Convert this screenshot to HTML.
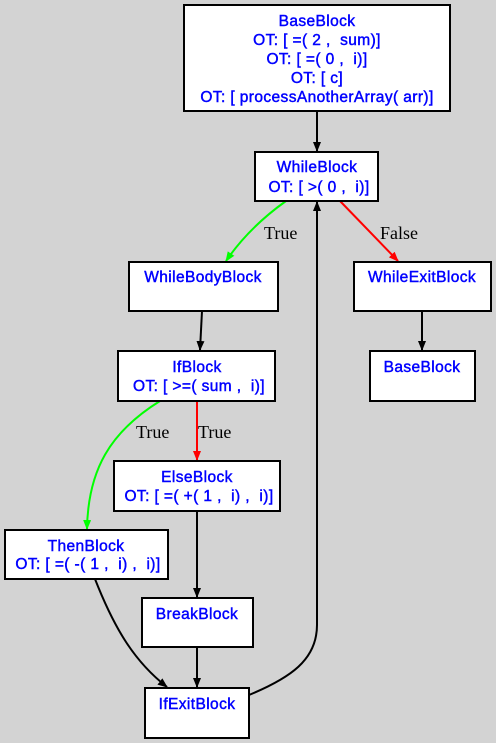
<!DOCTYPE html>
<html><head><style>
html,body{margin:0;padding:0;background:#d3d3d3;}
svg{display:block}
.n{fill:#fff;stroke:#000;stroke-width:2}
.t{font-family:"Liberation Sans",Arial,sans-serif;font-size:15.5px;font-weight:normal;letter-spacing:0.4px;fill:#0000ff;stroke:#0000ff;stroke-width:0.45;text-anchor:middle;white-space:pre}
.l{font-family:"Liberation Serif",serif;font-size:18px;fill:#000}
.e{fill:none;stroke-width:2}
</style></head><body>
<svg width="496" height="743" viewBox="0 0 496 743" xml:space="preserve">
<defs>
<marker id="ab" markerWidth="10" markerHeight="8" refX="9" refY="4" orient="auto" markerUnits="userSpaceOnUse"><path d="M0,0 L10,4 L0,8z" fill="#000"/></marker>
<marker id="ag" markerWidth="10" markerHeight="8" refX="9" refY="4" orient="auto" markerUnits="userSpaceOnUse"><path d="M0,0 L10,4 L0,8z" fill="#00ff00"/></marker>
<marker id="ar" markerWidth="10" markerHeight="8" refX="9" refY="4" orient="auto" markerUnits="userSpaceOnUse"><path d="M0,0 L10,4 L0,8z" fill="#ff0000"/></marker>
</defs>
<rect width="496" height="743" fill="#d3d3d3"/>
<path class="e" stroke="#000" d="M317,111 L317,151" marker-end="url(#ab)"/>
<path class="e" stroke="#00ff00" d="M286,201 C265,216 243,236 226,261" marker-end="url(#ag)"/>
<path class="e" stroke="#ff0000" d="M340,201 L398,261" marker-end="url(#ar)"/>
<path class="e" stroke="#000" d="M202,311 L200,350" marker-end="url(#ab)"/>
<path class="e" stroke="#000" d="M422,311 L422,350" marker-end="url(#ab)"/>
<path class="e" stroke="#ff0000" d="M197,401 L197,460" marker-end="url(#ar)"/>
<path class="e" stroke="#00ff00" d="M160,401 C110,432 88,470 87,529" marker-end="url(#ag)"/>
<path class="e" stroke="#000" d="M197,511 L197,597" marker-end="url(#ab)"/>
<path class="e" stroke="#000" d="M197,647 L197,687" marker-end="url(#ab)"/>
<path class="e" stroke="#000" d="M95,579 C115,630 135,662 167,687" marker-end="url(#ab)"/>
<path class="e" stroke="#000" d="M249,695 C290,678 317,660 317,625 L317,202" marker-end="url(#ab)"/>
<text class="l" x="264" y="239">True</text>
<text class="l" x="380" y="239">False</text>
<text class="l" x="136" y="438">True</text>
<text class="l" x="198" y="438">True</text>
<rect class="n" x="184" y="5" width="266" height="106"/>
<text class="t" x="317" y="26">BaseBlock</text>
<text class="t" x="317" y="45">OT: [ =( 2 ,  sum)]</text>
<text class="t" x="317" y="64">OT: [ =( 0 ,  i)]</text>
<text class="t" x="317" y="83">OT: [ c]</text>
<text class="t" x="317" y="102">OT: [ processAnotherArray( arr)]</text>
<rect class="n" x="255" y="152" width="123" height="49"/>
<text class="t" x="317" y="172">WhileBlock</text>
<text class="t" x="319" y="192">OT: [ &gt;( 0 ,  i)]</text>
<rect class="n" x="129" y="262" width="149" height="49"/>
<text class="t" x="203" y="282">WhileBodyBlock</text>
<rect class="n" x="354" y="262" width="137" height="49"/>
<text class="t" x="422" y="282">WhileExitBlock</text>
<rect class="n" x="118" y="351" width="157" height="50"/>
<text class="t" x="197" y="372">IfBlock</text>
<text class="t" x="199" y="391">OT: [ &gt;=( sum ,  i)]</text>
<rect class="n" x="370" y="351" width="105" height="50"/>
<text class="t" x="422" y="372">BaseBlock</text>
<rect class="n" x="114" y="461" width="166" height="50"/>
<text class="t" x="197" y="482">ElseBlock</text>
<text class="t" x="199" y="501">OT: [ =( +( 1 ,  i) ,  i)]</text>
<rect class="n" x="5" y="530" width="163" height="49"/>
<text class="t" x="86" y="551">ThenBlock</text>
<text class="t" x="88" y="569">OT: [ =( -( 1 ,  i) ,  i)]</text>
<rect class="n" x="142" y="598" width="111" height="49"/>
<text class="t" x="197" y="619">BreakBlock</text>
<rect class="n" x="145" y="688" width="104" height="50"/>
<text class="t" x="197" y="709">IfExitBlock</text>
</svg>
</body></html>
